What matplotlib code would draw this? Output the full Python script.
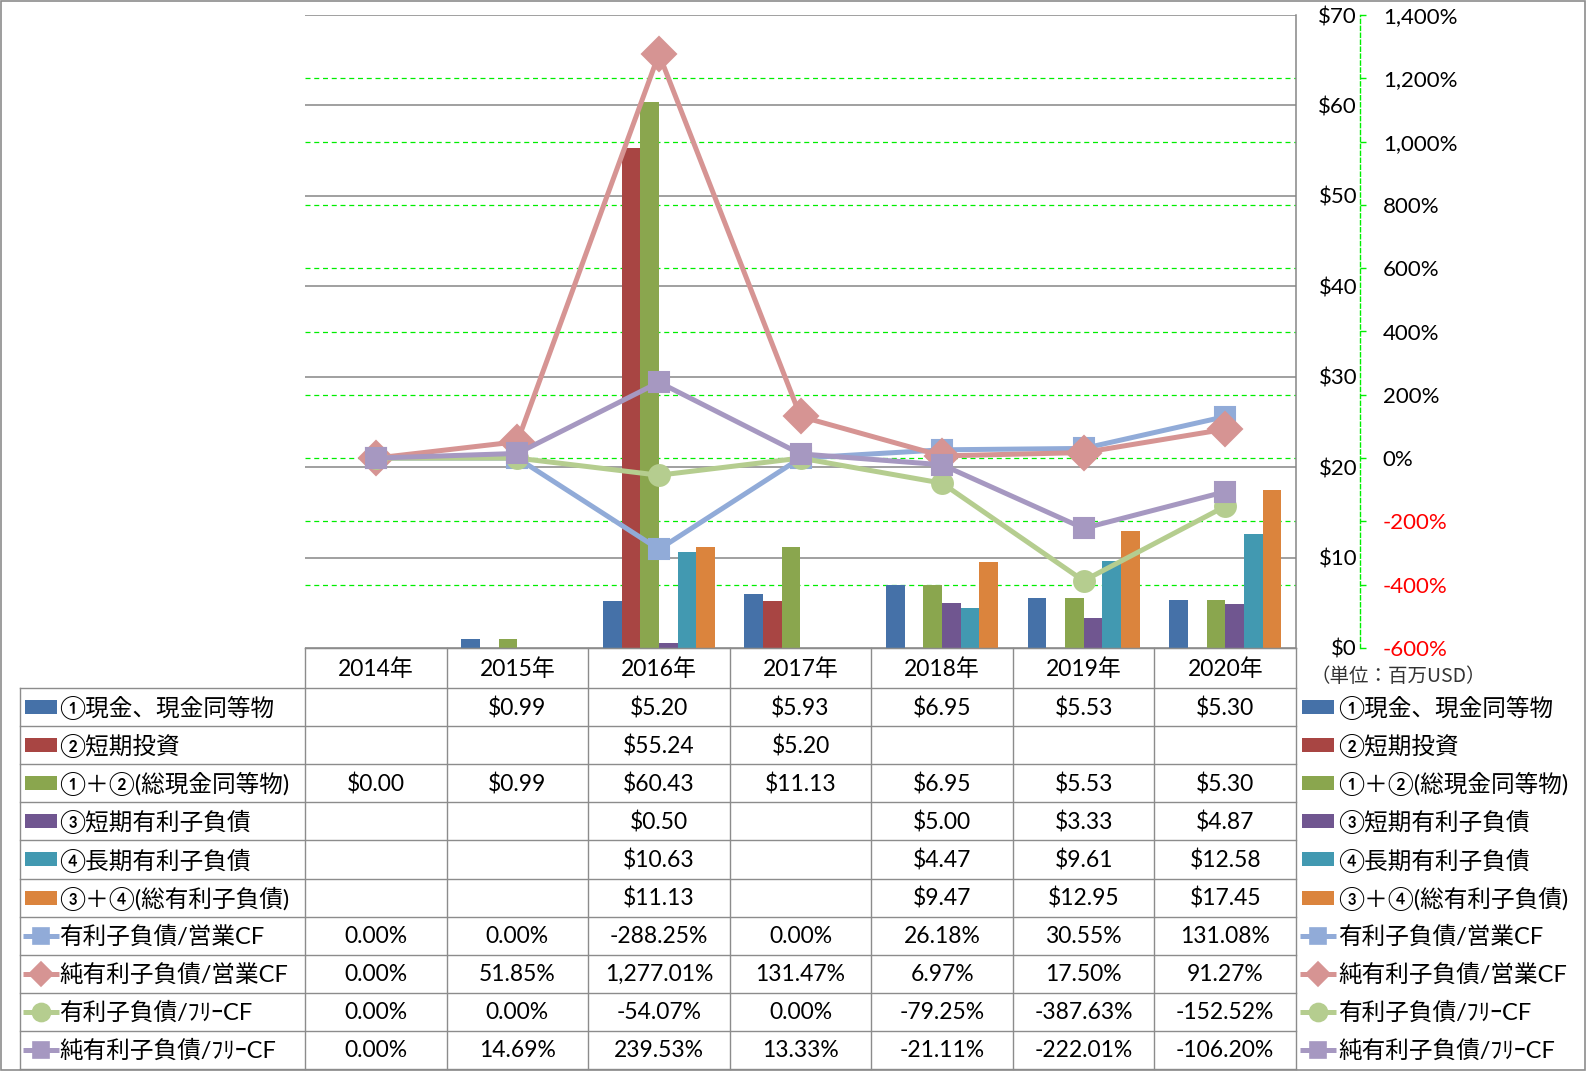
import numpy as np
import matplotlib
matplotlib.use('Agg')
import matplotlib.pyplot as plt
from matplotlib.patches import Rectangle
from matplotlib.ticker import FixedLocator, FuncFormatter

plt.rcParams['font.family'] = ['Lato', 'DejaVu Sans', 'Noto Sans CJK JP']

# ---------------- data ----------------
years = ['2014年', '2015年', '2016年', '2017年', '2018年', '2019年', '2020年']
nan = np.nan
cash = [nan, 0.99, 5.20, 5.93, 6.95, 5.53, 5.30]
st_invest = [nan, nan, 55.24, 5.20, nan, nan, nan]
total_cash = [0.00, 0.99, 60.43, 11.13, 6.95, 5.53, 5.30]
st_debt = [nan, nan, 0.50, nan, 5.00, 3.33, 4.87]
lt_debt = [nan, nan, 10.63, nan, 4.47, 9.61, 12.58]
total_debt = [nan, nan, 11.13, nan, 9.47, 12.95, 17.45]

debt_ocf = [0.00, 0.00, -288.25, 0.00, 26.18, 30.55, 131.08]
netdebt_ocf = [0.00, 51.85, 1277.01, 131.47, 6.97, 17.50, 91.27]
debt_fcf = [0.00, 0.00, -54.07, 0.00, -79.25, -387.63, -152.52]
netdebt_fcf = [0.00, 14.69, 239.53, 13.33, -21.11, -222.01, -106.20]

bar_labels = ['①現金、現金同等物', '②短期投資', '①＋②(総現金同等物)',
              '③短期有利子負債', '④長期有利子負債', '③＋④(総有利子負債)']
line_labels = ['有利子負債/営業CF', '純有利子負債/営業CF',
               '有利子負債/ﾌﾘｰCF', '純有利子負債/ﾌﾘｰCF']

dollar_ticks = [0, 10, 20, 30, 40, 50, 60, 70]
pct_ticks = [-600, -400, -200, 0, 200, 400, 600, 800, 1000, 1200, 1400]
unit_label = '（単位：百万USD）'

# ---------------- styles ----------------
bar_series = [cash, st_invest, total_cash, st_debt, lt_debt, total_debt]
bar_colors = ['#4571A8', '#A84543', '#8AA64E', '#705690', '#4299B1', '#DB843D']
line_series = [debt_ocf, netdebt_ocf, debt_fcf, netdebt_fcf]
line_colors = ['#91ABD8', '#D69493', '#B5CD8F', '#A698C1']
line_markers = ['s', 'D', 'o', 's']
line_ms = [14, 17, 15, 14]
key_ms = [12, 12, 13, 12]

W, H = 1586, 1071
fig = plt.figure(figsize=(W / 100, H / 100), dpi=100)

colL, colR = 305, 1296
plot_top, plot_bot = 15, 648
ax = fig.add_axes([colL / W, 1 - plot_bot / H, (colR - colL) / W, (plot_bot - plot_top) / H])

n = len(years)
xs = np.arange(n)
bw = 0.132
for i, (vals, c) in enumerate(zip(bar_series, bar_colors)):
    ax.bar(xs + (i - 2.5) * bw, vals, width=bw, color=c, zorder=2, linewidth=0)

ax.set_xlim(-0.5, n - 0.5)
ax.set_ylim(dollar_ticks[0], dollar_ticks[-1])
ax.set_xticks([])
lo1, hi1 = dollar_ticks[0], dollar_ticks[-1]
lo2, hi2 = pct_ticks[0], pct_ticks[-1]

ax2 = ax.twinx()

ax.yaxis.set_major_locator(FixedLocator(dollar_ticks))
ax.yaxis.set_major_formatter(FuncFormatter(lambda v, p: '${:.0f}'.format(v)))
minor_eq = [(p - lo2) / (hi2 - lo2) * (hi1 - lo1) + lo1 for p in pct_ticks]
ax.yaxis.set_minor_locator(FixedLocator(minor_eq))
ax.set_axisbelow(True)
ax.grid(axis='y', which='major', color='#868686', lw=1.1)
ax.grid(axis='y', which='minor', color='#00EE00', lw=0.9, ls=(0, (4, 3)))
ax.yaxis.tick_right()
ax.tick_params(axis='y', which='major', length=0, pad=44, labelsize=16,
               left=False, labelleft=False, right=False, labelright=True)
ax.tick_params(axis='y', which='minor', length=0, labelright=False, labelleft=False)
for t in ax.yaxis.get_major_ticks():
    t.label2.set_horizontalalignment('right')
for s in ['top', 'left']:
    ax.spines[s].set_visible(False)
ax.spines['right'].set_color('#868686')
ax.spines['right'].set_linewidth(1.1)
ax.spines['bottom'].set_color('#8C8C8C')

ax2.set_ylim(lo2, hi2)
ax2.set_xlim(-0.5, n - 0.5)
ax2.yaxis.set_major_locator(FixedLocator(pct_ticks))
ax2.yaxis.set_major_formatter(FuncFormatter(lambda v, p: '{:,.0f}%'.format(v)))
for s in ['top', 'left', 'bottom']:
    ax2.spines[s].set_visible(False)
ax2.spines['right'].set_position(('outward', 46))
ax2.spines['right'].set_color('#00EE00')
ax2.spines['right'].set_linestyle((0, (3, 2)))
ax2.spines['right'].set_linewidth(1.0)
ax2.tick_params(axis='y', colors='#00EE00', length=4.5, width=1.0, pad=12, labelsize=16)
for t, v in zip(ax2.yaxis.get_major_ticks(), pct_ticks):
    t.label2.set_color('#FF0000' if v < 0 else 'black')

for vals, c, m, ms in zip(line_series, line_colors, line_markers, line_ms):
    ax2.plot(xs, vals, color=c, lw=3.6, marker=m, ms=ms, mfc=c, mec=c, mew=1.5,
             clip_on=False, solid_joinstyle='round', zorder=3)

# ---------------- table overlay ----------------
ov = fig.add_axes([0, 0, 1, 1])
ov.set_xlim(0, W)
ov.set_ylim(H, 0)
ov.axis('off')
ov.patch.set_alpha(0)

gc = '#8C8C8C'
glw = 1.0
hdr_top, hdr_bot, tbl_bot = 648, 688, 1069
leg_left = 20
nrow = 10
rh = (tbl_bot - hdr_bot) / nrow
cw = (colR - colL) / n

ov.plot([colL, colR], [hdr_top, hdr_top], color=gc, lw=glw)
for k in range(nrow + 1):
    y = hdr_bot + k * rh
    ov.plot([leg_left, colR], [y, y], color=gc, lw=glw)
ov.plot([leg_left, leg_left], [hdr_bot, tbl_bot], color=gc, lw=glw)
for j in range(n + 1):
    x = colL + j * cw
    ov.plot([x, x], [hdr_top, tbl_bot], color=gc, lw=glw)

for j, yr in enumerate(years):
    ov.text(colL + (j + 0.5) * cw, (hdr_top + hdr_bot) / 2 + 1, yr, ha='center', va='center', fontsize=16.5)

def fmt_d(v):
    return '' if np.isnan(v) else '${:.2f}'.format(v)

def fmt_p(v):
    return '' if np.isnan(v) else '{:,.2f}%'.format(v)

rows = [(s, fmt_d) for s in bar_series] + [(s, fmt_p) for s in line_series]
for r, (vals, f) in enumerate(rows):
    yc = hdr_bot + (r + 0.5) * rh
    for j, v in enumerate(vals):
        ov.text(colL + (j + 0.5) * cw, yc + 1, f(v), ha='center', va='center', fontsize=16.5)

def draw_key(r, x0, xtext):
    yc = hdr_bot + (r + 0.5) * rh
    if r < 6:
        ov.add_patch(Rectangle((x0 + 2, yc - 7), 32, 14, color=bar_colors[r], lw=0))
        ov.text(xtext, yc + 1, bar_labels[r], ha='left', va='center', fontsize=17)
    else:
        k = r - 6
        c = line_colors[k]
        ov.plot([x0, x0 + 36], [yc, yc], color=c, lw=3.6, solid_capstyle='butt')
        ov.plot([x0 + 18], [yc], marker=line_markers[k], ms=key_ms[k], color=c, mec=c, mew=1.2)
        ov.text(xtext, yc + 1, line_labels[k], ha='left', va='center', fontsize=17)

for r in range(nrow):
    draw_key(r, 23, 59)
    draw_key(r, 1300, 1338)

ov.text(1310, 677, unit_label, ha='left', va='center', fontsize=14, color='#333333',
        family=['Noto Sans CJK JP', 'DejaVu Sans'])

ov.add_patch(Rectangle((0.5, 0.5), W - 1.5, H - 1.5, fill=False, ec='#8C8C8C', lw=1.2))

fig.savefig('out.png', dpi=100)
